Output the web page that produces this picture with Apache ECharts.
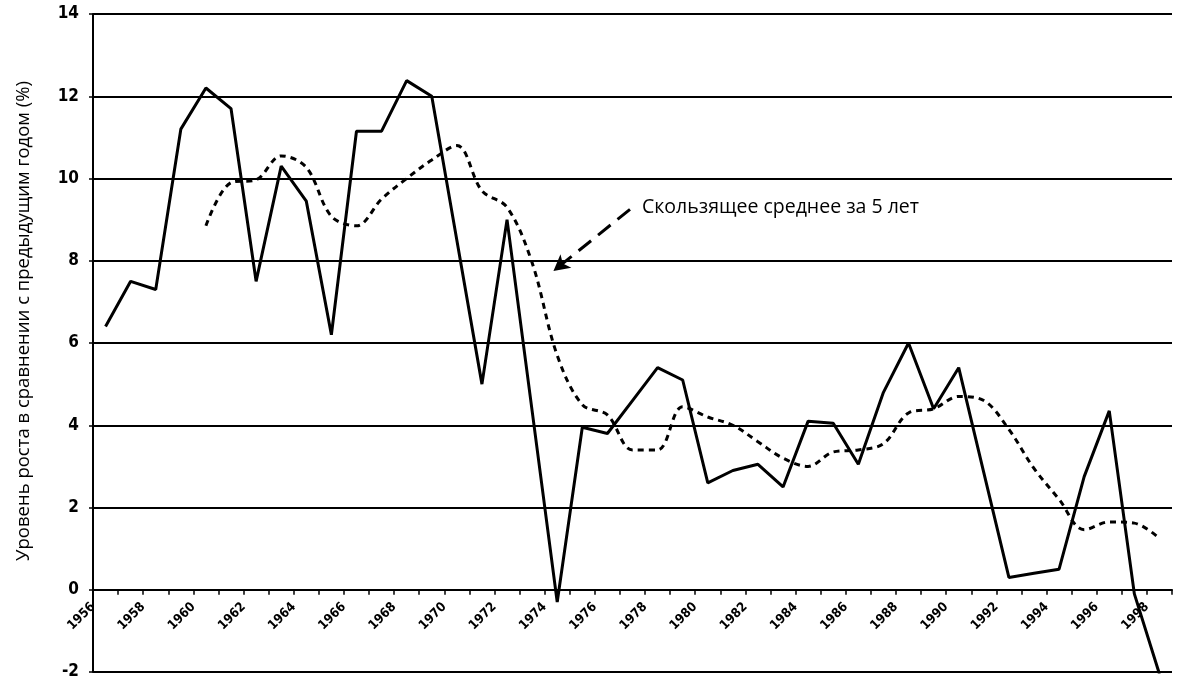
<!DOCTYPE html>
<html>
<head>
<meta charset="utf-8">
<script src="https://cdn.jsdelivr.net/npm/echarts@6/dist/echarts.min.js"></script>
<style>
  html, body { margin: 0; padding: 0; background: #fff; }
  #main { width: 1179px; height: 681px; }
</style>
</head>
<body>
<div id="main"></div>
<script>
// годы и значения
var years = [1956, 1957, 1958, 1959, 1960, 1961, 1962, 1963, 1964, 1965,
    1966, 1967, 1968, 1969, 1970, 1971, 1972, 1973, 1974, 1975,
    1976, 1977, 1978, 1979, 1980, 1981, 1982, 1983, 1984, 1985,
    1986, 1987, 1988, 1989, 1990, 1991, 1992, 1993, 1994, 1995,
    1996, 1997, 1998];
var growth = [6.4, 7.5, 7.3, 11.2, 12.2, 11.7, 7.5, 10.3, 9.45, 6.2,
    11.15, 11.15, 12.38, 12.0, 8.5, 5.0, 9.0, 4.35, -0.3, 3.95,
    3.8, 4.6, 5.4, 5.1, 2.6, 2.9, 3.05, 2.5, 4.1, 4.05,
    3.05, 4.8, 6.0, 4.4, 5.4, 2.85, 0.3, 0.4, 0.5, 2.75,
    4.35, -0.1, -2.05];

// скользящее среднее за 5 лет (с 1960 г.)
var maYears = [1960, 1961, 1962, 1963, 1964, 1965, 1966, 1967, 1968, 1969,
    1970, 1971, 1972, 1973, 1974, 1975, 1976, 1977, 1978, 1979,
    1980, 1981, 1982, 1983, 1984, 1985, 1986, 1987, 1988, 1989,
    1990, 1991, 1992, 1993, 1994, 1995, 1996, 1997, 1998];
var movingAvg = [8.85, 9.9, 9.97, 10.55, 10.27, 9.08, 8.85, 9.5, 10.0, 10.45,
    10.8, 9.7, 9.3, 7.95, 5.7, 4.5, 4.25, 3.4, 3.4, 4.45,
    4.2, 4.0, 3.6, 3.2, 3.0, 3.35, 3.4, 3.55, 4.3, 4.4,
    4.7, 4.6, 3.9, 2.95, 2.2, 1.46, 1.65, 1.62, 1.25];

var yTicks = [-2, 0, 2, 4, 6, 8, 10, 12, 14];

var gridTop = 14, gridBottom = 9;
var chartH = 681;
// ось X проходит по нулю: сдвигаем её вверх на расстояние от -2 до 0
var unitPx = (chartH - gridTop - gridBottom) / (yTicks[yTicks.length - 1] - yTicks[0]);
var xAxisOffset = -(0 - yTicks[0]) * unitPx;

var myChart = echarts.init(document.getElementById('main'));

var solidData = years.map(function (y, i) { return [y + 0.5, growth[i]]; });
var maData = maYears.map(function (y, i) { return [y + 0.5, movingAvg[i]]; });

var option = {
    backgroundColor: '#fff',
    animation: false,
    grid: {left: 93, top: gridTop, right: 7, bottom: gridBottom, outerBoundsMode: 'none', containLabel: false},
    xAxis: {
        type: 'value',
        min: years[0],
        max: years[years.length - 1] + 1,
        interval: 1,
        position: 'bottom',
        offset: xAxisOffset,
        axisLine: {onZero: false, lineStyle: {color: '#000', width: 2}},
        axisTick: {show: true, length: 5, lineStyle: {color: '#000', width: 1.5}},
        axisLabel: {
            rotate: 45,
            margin: 15,
            color: '#000',
            fontFamily: 'DejaVu Sans Condensed, Open Sans',
            fontWeight: 'bold',
            fontSize: 13,
            formatter: function (v) { return v % 2 === 0 ? String(v) : ''; }
        },
        splitLine: {show: false}
    },
    yAxis: {
        type: 'value',
        min: yTicks[0],
        max: yTicks[yTicks.length - 1],
        interval: 2,
        name: 'Уровень роста в сравнении с предыдущим годом (%)',
        nameLocation: 'middle',
        nameGap: 60,
        nameTextStyle: {color: '#000', fontFamily: 'Open Sans', fontSize: 18.5, padding: [0, 0, 0, 44]},
        axisLine: {show: true, lineStyle: {color: '#000', width: 2}},
        axisTick: {show: true, length: 4, lineStyle: {color: '#000', width: 1.5}},
        axisLabel: {
            color: '#000',
            fontFamily: 'DejaVu Sans Condensed, Open Sans',
            fontWeight: 'bold',
            fontSize: 17,
            margin: 14
        },
        splitLine: {lineStyle: {color: '#000', width: 2}}
    },
    series: [
        {
            name: 'Рост',
            type: 'line',
            data: solidData,
            symbol: 'none',
            lineStyle: {color: '#000', width: 3},
            clip: true,
            z: 3
        },
        {
            name: 'Скользящее среднее за 5 лет',
            type: 'line',
            data: maData,
            symbol: 'none',
            smooth: 0.35,
            lineStyle: {color: '#000', width: 3, type: [6, 5]},
            z: 2,
            markLine: {
                silent: true,
                symbol: ['none', 'arrow'],
                symbolSize: [13, 16],
                label: {show: false},
                lineStyle: {color: '#000', width: 3, type: [16, 9]},
                data: [[{coord: [1977.4, 9.25]}, {coord: [1974.35, 7.75]}]]
            }
        }
    ],
    graphic: [{
        type: 'text',
        left: 642,
        top: 197,
        style: {
            text: 'Скользящее среднее за 5 лет',
            fill: '#000',
            font: '19.5px "Open Sans"'
        }
    }]
};

myChart.setOption(option);
</script>
</body>
</html>
